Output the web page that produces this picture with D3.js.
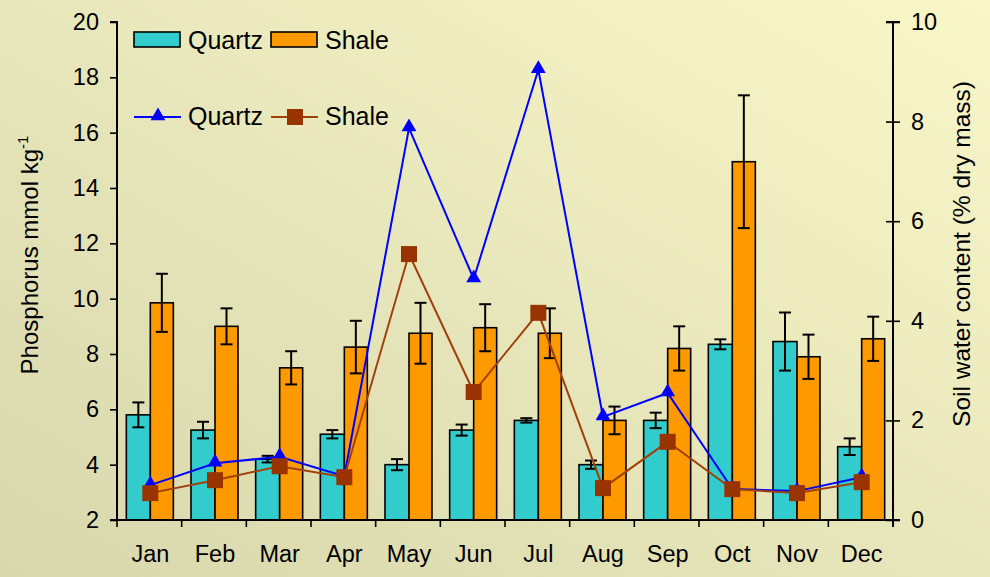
<!DOCTYPE html>
<html><head><meta charset="utf-8">
<script src="https://cdn.jsdelivr.net/npm/d3@7"></script>
<style>
html,body{margin:0;padding:0;}
svg{display:block;font-family:"Liberation Sans",Arial,sans-serif;}
</style></head>
<body>
<svg id="chart" width="990" height="577"></svg>
<script>
const months = ["Jan","Feb","Mar","Apr","May","Jun","Jul","Aug","Sep","Oct","Nov","Dec"];
const seriesNames = ["Quartz","Shale"];
// Phosphorus (left axis) bars and standard errors
const quartzP   = [5.8, 5.25, 4.2, 5.1, 4.0, 5.25, 5.6, 4.0, 5.6, 8.35, 8.45, 4.65];
const quartzErr = [0.45, 0.3, 0.12, 0.15, 0.2, 0.2, 0.08, 0.15, 0.28, 0.18, 1.05, 0.3];
const shaleP    = [9.85, 9.0, 7.5, 8.25, 8.75, 8.95, 8.75, 5.6, 8.2, 14.95, 7.9, 8.55];
const shaleErr  = [1.05, 0.65, 0.6, 0.95, 1.1, 0.85, 0.9, 0.5, 0.8, 2.4, 0.8, 0.8];
// Soil water content (right axis) lines
const quartzW = [0.70, 1.14, 1.27, 0.88, 7.87, 4.84, 9.04, 2.07, 2.55, 0.62, 0.58, 0.86];
const shaleW  = [0.54, 0.80, 1.08, 0.86, 5.34, 2.57, 4.16, 0.64, 1.57, 0.62, 0.54, 0.76];
const leftTicks = [2,4,6,8,10,12,14,16,18,20];
const rightTicks = [0,2,4,6,8,10];

const svg = d3.select("#chart");
const W = 990, H = 577;
const defs = svg.append("defs");
const grad = defs.append("linearGradient").attr("id","bg")
  .attr("x1","0").attr("y1","1").attr("x2","1").attr("y2","0");
grad.append("stop").attr("offset","0").attr("stop-color","#d8d7ad");
grad.append("stop").attr("offset","0.5").attr("stop-color","#e8e7bb");
grad.append("stop").attr("offset","1").attr("stop-color","#f9f7c8");
svg.append("rect").attr("width",W).attr("height",H).attr("fill","url(#bg)");

const L = 117, R = 893, T = 22, B = 520;
const x = d3.scaleBand().domain(months).range([L,R]).padding(0);
const yL = d3.scaleLinear().domain([2,20]).range([B,T]);
const yR = d3.scaleLinear().domain([0,10]).range([B,T]);
const bw = 24;
const cx = m => x(m) + x.bandwidth()/2 + 1;

const colQ = "#33cccc", colS = "#ff9900";
const FONT = "'Liberation Sans',Arial,sans-serif";

// bars
const g = svg.append("g");
months.forEach((m,i)=>{
  g.append("rect").attr("x",cx(m)-bw).attr("y",yL(quartzP[i])).attr("width",bw)
   .attr("height",yL(2)-yL(quartzP[i])).attr("fill",colQ).attr("stroke","#000").attr("stroke-width",1.6);
  g.append("rect").attr("x",cx(m)).attr("y",yL(shaleP[i])).attr("width",bw-1)
   .attr("height",yL(2)-yL(shaleP[i])).attr("fill",colS).attr("stroke","#000").attr("stroke-width",1.6);
});
// error bars
function errBar(xc, v, e){
  const eg = g.append("g").attr("stroke","#000").attr("stroke-width",2);
  eg.append("line").attr("x1",xc).attr("x2",xc).attr("y1",yL(v+e)).attr("y2",yL(v-e));
  eg.append("line").attr("x1",xc-6).attr("x2",xc+6).attr("y1",yL(v+e)).attr("y2",yL(v+e));
  eg.append("line").attr("x1",xc-6).attr("x2",xc+6).attr("y1",yL(v-e)).attr("y2",yL(v-e));
}
months.forEach((m,i)=>{
  errBar(cx(m)-bw/2, quartzP[i], quartzErr[i]);
  errBar(cx(m)+bw/2-0.5, shaleP[i], shaleErr[i]);
});

// axes
const axL = svg.append("g").attr("transform",`translate(${L},0)`)
  .call(d3.axisLeft(yL).tickValues(leftTicks).tickSize(7).tickPadding(11));
const axR = svg.append("g").attr("transform",`translate(${R},0)`)
  .call(d3.axisRight(yR).tickValues(rightTicks).tickSize(7).tickPadding(11));
axR.selectAll(".tick line").attr("x1",-7);
const axB = svg.append("g").attr("transform",`translate(0,${B})`)
  .call(d3.axisBottom(x).tickSize(0).tickPadding(25));
// boundary ticks on bottom axis
const bounds = months.map(m=>x(m)).concat([R]);
svg.append("g").selectAll("line").data(bounds).join("line")
  .attr("x1",d=>d).attr("x2",d=>d).attr("y1",B).attr("y2",B+7)
  .attr("stroke","#000").attr("stroke-width",1.6);
axB.select(".domain").attr("d",`M${L-7},0H${R+7}`);
[axL,axR,axB].forEach(a=>{
  a.select(".domain").attr("stroke","#000").attr("stroke-width",2);
  a.selectAll(".tick line").attr("stroke","#000").attr("stroke-width",1.6);
  a.selectAll("text").attr("font-size",23.5).attr("fill","#000").attr("font-family",FONT);
});
axL.select(".domain").attr("d",`M-7,${T}H0V${B}`);
axR.select(".domain").attr("d",`M-7,${T}H7M0,${T}V${B+7}`);
axB.selectAll(".tick text").attr("dx",1);

// lines
const lineGen = d3.line().x((d,i)=>cx(months[i])).y(d=>yR(d));
svg.append("path").datum(quartzW).attr("d",lineGen).attr("fill","none")
  .attr("stroke","#0000ff").attr("stroke-width",2);
svg.append("path").datum(shaleW).attr("d",lineGen).attr("fill","none")
  .attr("stroke","#a0400a").attr("stroke-width",2);
const tri = d3.symbol().type(d3.symbolTriangle).size(95);
svg.append("g").selectAll("path").data(quartzW).join("path")
  .attr("transform",(d,i)=>`translate(${cx(months[i])},${yR(d)-1})`)
  .attr("d",tri).attr("fill","#0000ff");
svg.append("g").selectAll("rect").data(shaleW).join("rect")
  .attr("x",(d,i)=>cx(months[i])-8).attr("y",d=>yR(d)-8)
  .attr("width",16).attr("height",16).attr("fill","#993300");

// legend
const lg = svg.append("g").attr("font-size",25).attr("fill","#000");
[[134,colQ],[271,colS]].forEach(([lx,c],k)=>{
  lg.append("rect").attr("x",lx).attr("y",32).attr("width",46).attr("height",15)
    .attr("fill",c).attr("stroke","#000").attr("stroke-width",1.6);
  lg.append("text").attr("x",lx+54).attr("y",49).text(seriesNames[k]);
});
lg.append("line").attr("x1",134).attr("x2",181).attr("y1",117).attr("y2",117)
  .attr("stroke","#0000ff").attr("stroke-width",2);
lg.append("path").attr("transform","translate(158,116)").attr("d",tri).attr("fill","#0000ff");
lg.append("text").attr("x",188).attr("y",125).text(seriesNames[0]);
lg.append("line").attr("x1",271).attr("x2",318).attr("y1",117).attr("y2",117)
  .attr("stroke","#a0400a").attr("stroke-width",2);
lg.append("rect").attr("x",287).attr("y",109).attr("width",16).attr("height",16).attr("fill","#993300");
lg.append("text").attr("x",325).attr("y",125).text(seriesNames[1]);

// axis titles
const tl = svg.append("text").attr("transform","translate(38,255) rotate(-90)")
  .attr("text-anchor","middle").attr("font-size",24).attr("fill","#000");
tl.append("tspan").text("Phosphorus mmol kg");
tl.append("tspan").attr("font-size",15).attr("dy",-10).text("-1");
svg.append("text").attr("transform","translate(970,254) rotate(-90)")
  .attr("text-anchor","middle").attr("font-size",24.5).attr("fill","#000")
  .text("Soil water content (% dry mass)");
</script>
</body></html>
